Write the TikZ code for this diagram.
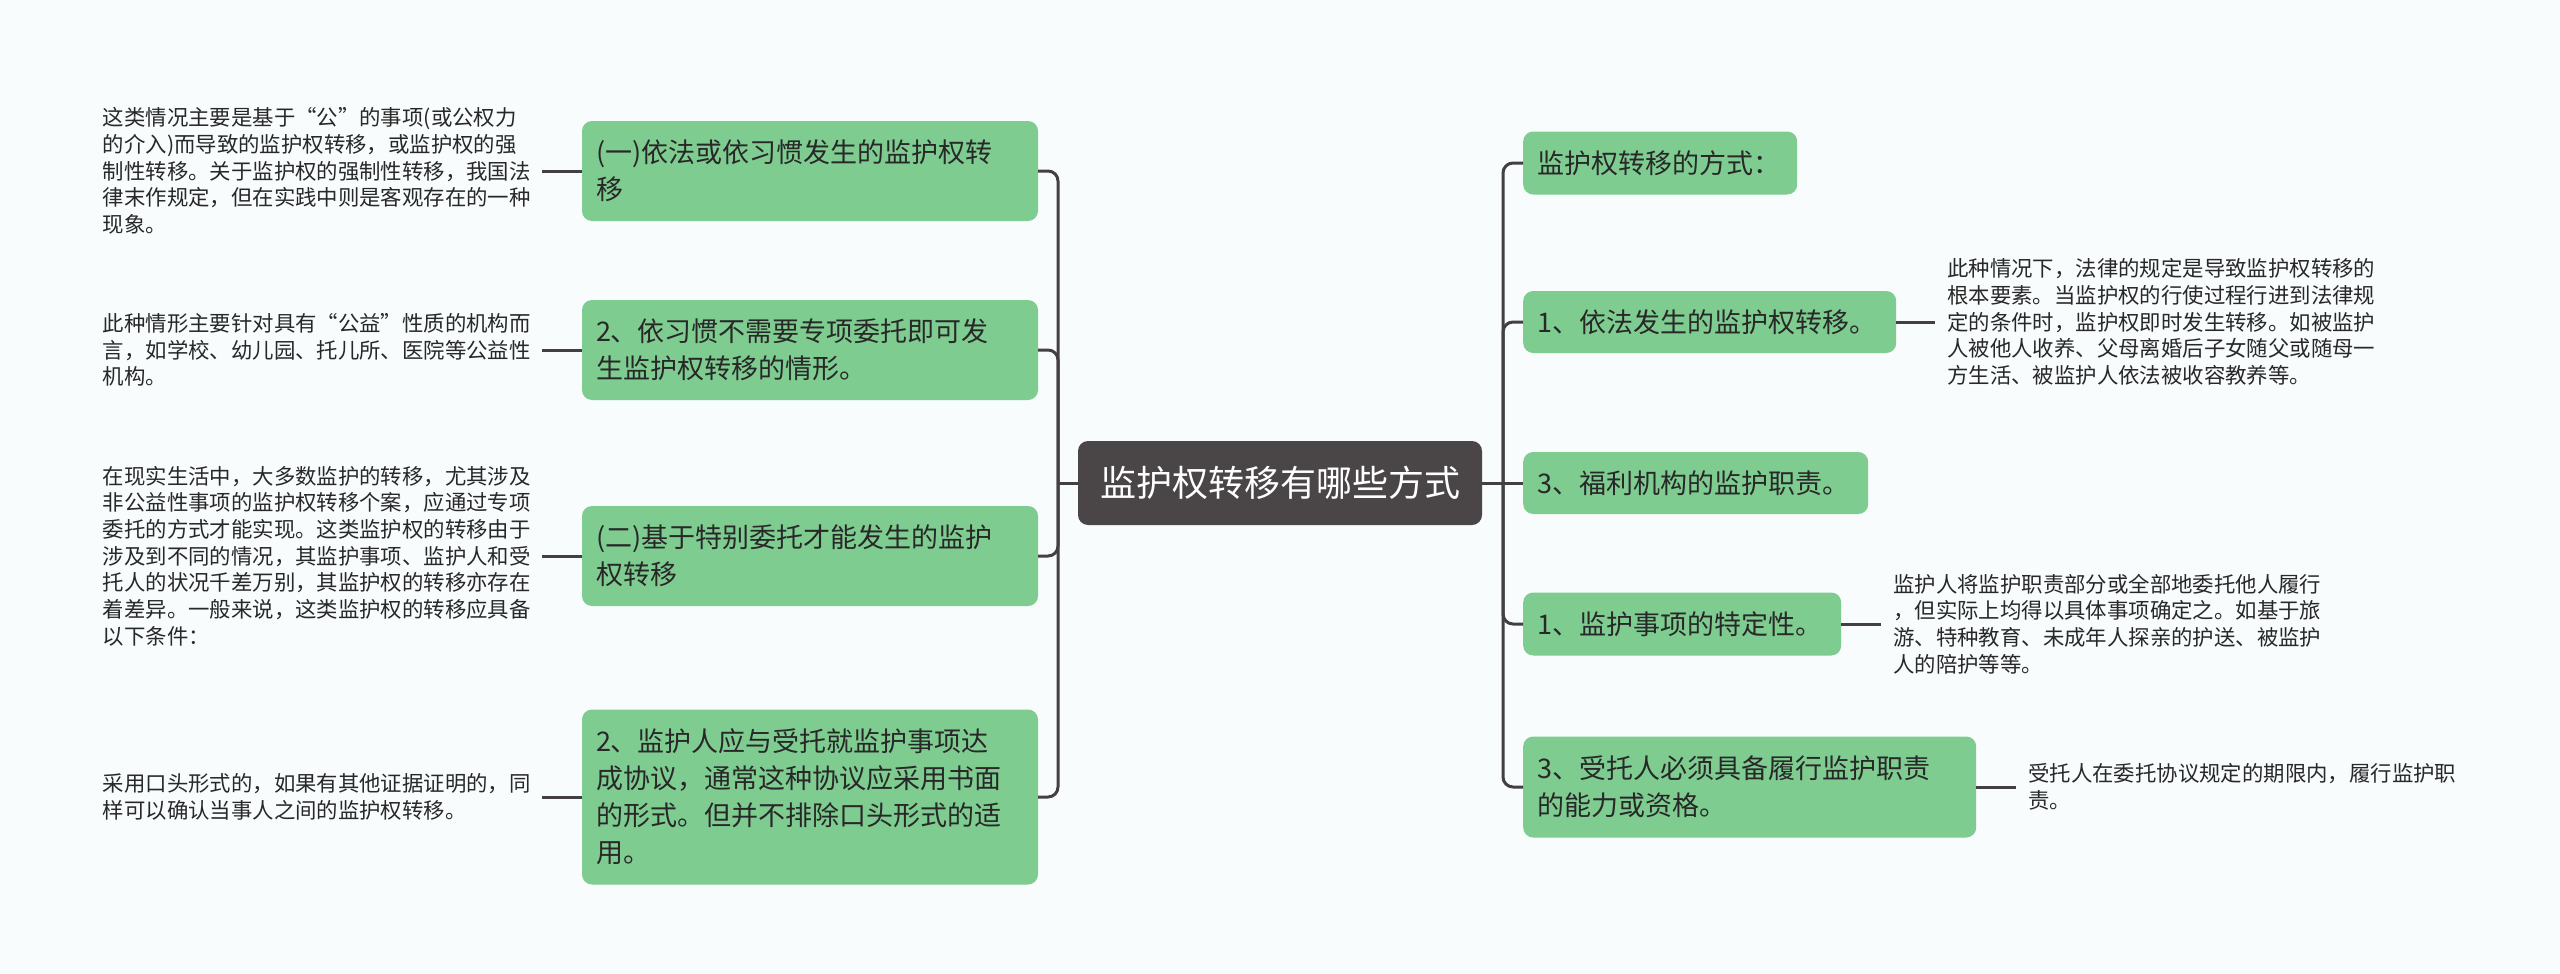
\documentclass[tikz,border=0pt]{standalone}
\usepackage{fontspec}
\setmainfont{Noto Sans CJK SC}
\definecolor{bg}{RGB}{248,252,253}
\definecolor{gr}{RGB}{127,204,145}
\definecolor{dk}{RGB}{74,69,70}
\definecolor{ln}{RGB}{68,64,65}
\definecolor{tx}{RGB}{40,40,40}
\begin{document}
\begin{tikzpicture}[x=1pt,y=-1pt,
 box/.style={fill=gr, rounded corners=10pt, text=tx, align=left, inner xsep=14pt, inner ysep=0pt, font=\fontsize{27}{37}\selectfont},
 root/.style={fill=dk, rounded corners=10pt, text=white, inner sep=0pt, font=\fontsize{36}{40}\selectfont, minimum width=404pt, minimum height=84pt},
 note/.style={align=left, text=tx, inner xsep=12pt, inner ysep=0pt, text width=427pt, font=\fontsize{21.4}{26.7}\selectfont},
 conn/.style={draw=ln, line width=3pt, rounded corners=10pt}]
\fill[bg] (0,0) rectangle (2560,974);
\useasboundingbox (0,0) rectangle (2560,974);

\node[root] (c) at (1280,483) {监护权转移有哪些方式};

% left branch nodes
\node[box, text width=428pt, minimum height=100pt] (L1) at (810,171) {(一)依法或依习惯发生的监护权转\\移};
\node[box, text width=428pt, minimum height=100pt] (L2) at (810,350) {2、依习惯不需要专项委托即可发\\生监护权转移的情形。};
\node[box, text width=428pt, minimum height=100pt] (L3) at (810,556) {(二)基于特别委托才能发生的监护\\权转移};
\node[box, text width=428pt, minimum height=175pt] (L4) at (810,797) {2、监护人应与受托就监护事项达\\成协议，通常这种协议应采用书面\\的形式。但并不排除口头形式的适\\用。};

% right branch nodes
\node[box, anchor=west, text width=246pt, minimum height=63pt] (R1) at (1523,163) {监护权转移的方式：};
\node[box, anchor=west, text width=345pt, minimum height=62pt] (R2) at (1523,322) {1、依法发生的监护权转移。};
\node[box, anchor=west, text width=317pt, minimum height=62pt] (R3) at (1523,483) {3、福利机构的监护职责。};
\node[box, anchor=west, text width=290pt, minimum height=63pt] (R4) at (1523,624) {1、监护事项的特定性。};
\node[box, anchor=west, text width=425pt, minimum height=101pt] (R5) at (1523,787) {3、受托人必须具备履行监护职责\\的能力或资格。};

% notes
\node[note, anchor=east] (nL1) at (542,171) {这类情况主要是基于“公”的事项(或公权力\\的介入)而导致的监护权转移，或监护权的强\\制性转移。关于监护权的强制性转移，我国法\\律末作规定，但在实践中则是客观存在的一种\\现象。};
\node[note, anchor=east] (nL2) at (542,350) {此种情形主要针对具有“公益”性质的机构而\\言，如学校、幼儿园、托儿所、医院等公益性\\机构。};
\node[note, anchor=east] (nL3) at (542,556) {在现实生活中，大多数监护的转移，尤其涉及\\非公益性事项的监护权转移个案，应通过专项\\委托的方式才能实现。这类监护权的转移由于\\涉及到不同的情况，其监护事项、监护人和受\\托人的状况千差万别，其监护权的转移亦存在\\着差异。一般来说，这类监护权的转移应具备\\以下条件：};
\node[note, anchor=east] (nL4) at (542,797) {采用口头形式的，如果有其他证据证明的，同\\样可以确认当事人之间的监护权转移。};
\node[note, anchor=west] (nR2) at (1935,322) {此种情况下，法律的规定是导致监护权转移的\\根本要素。当监护权的行使过程行进到法律规\\定的条件时，监护权即时发生转移。如被监护\\人被他人收养、父母离婚后子女随父或随母一\\方生活、被监护人依法被收容教养等。};
\node[note, anchor=west] (nR4) at (1881,624) {监护人将监护职责部分或全部地委托他人履行\\，但实际上均得以具体事项确定之。如基于旅\\游、特种教育、未成年人探亲的护送、被监护\\人的陪护等等。};
\node[note, anchor=west] (nR5) at (2016,787) {受托人在委托协议规定的期限内，履行监护职\\责。};

% connectors
\coordinate (jL) at (1058,483);
\coordinate (jR) at (1503,483);
\draw[conn] (c.west) -- (jL);
\draw[conn] (c.east) -- (jR);
\foreach \n in {L1,L2,L3,L4} \draw[conn] (jL) |- (\n.east);
\foreach \n in {R1,R2,R4,R5} \draw[conn] (jR) |- (\n.west);
\draw[conn] (jR) -- (R3.west);
\draw[conn] (nL1.east) -- (L1.west);
\draw[conn] (nL2.east) -- (L2.west);
\draw[conn] (nL3.east) -- (L3.west);
\draw[conn] (nL4.east) -- (L4.west);
\draw[conn] (R2.east) -- (nR2.west);
\draw[conn] (R4.east) -- (nR4.west);
\draw[conn] (R5.east) -- (nR5.west);
\end{tikzpicture}
\end{document}
